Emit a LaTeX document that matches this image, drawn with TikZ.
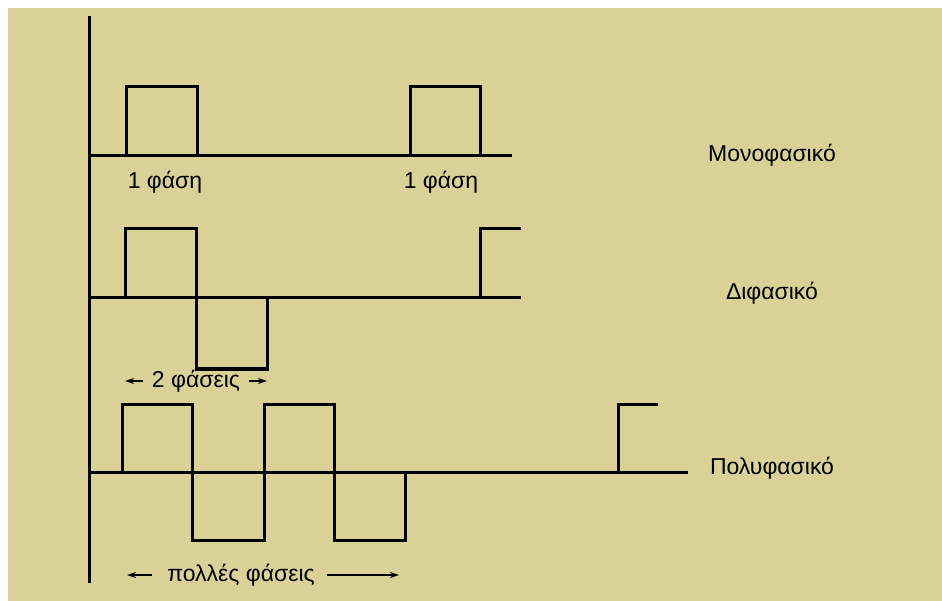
\documentclass[tikz,border=0pt]{standalone}
\usepackage{fontspec}
\setmainfont{Liberation Sans}
\usetikzlibrary{arrows.meta}
\definecolor{khaki}{RGB}{217,209,150}
\begin{document}
\begin{tikzpicture}[x=1pt,y=-1pt,
  wave/.style={line width=3pt,line join=miter,line cap=butt},
  lbl/.style={font=\fontsize{23}{26}\selectfont,inner sep=0pt},
  arr/.style={line width=1.3pt,-{Stealth[length=9pt,width=6pt]}}]
\useasboundingbox (0,0) rectangle (942,601);
\fill[white] (0,0) rectangle (942,601);
\fill[khaki] (8,8) rectangle (942,601);
% axis
\draw[wave] (89,16) -- (89,583);
% mono
\draw[wave] (89,156) -- (512,156);
\draw[wave] (126,156) -- (126,87) -- (197,87) -- (197,156);
\draw[wave] (410,156) -- (410,87) -- (480,87) -- (480,156);
\node[lbl] (m1) at (165,182) {1 φάση};
\node[lbl] (m2) at (441,182) {1 φάση};
\node[lbl] (mono) at (772,155) {Μονοφασικό};
% di
\draw[wave] (89,298) -- (521,298);
\draw[wave] (125,298) -- (125,229) -- (196,229) -- (196,369) -- (267,369) -- (267,298);
\draw[wave] (480,298) -- (480,229) -- (521,229);
\node[lbl] (di) at (772,293) {Διφασικό};
\node[lbl] (d2) at (196,381) {2 φάσεις};
\coordinate (d2l) at (125,381);
\coordinate (d2r) at (267,381);
\draw[arr] (143,381) -- (d2l);
\draw[arr] (249,381) -- (d2r);
% poly
\draw[wave] (89,472) -- (688,472);
\draw[wave] (122,472) -- (122,404) -- (192,404) -- (192,540) -- (264,540) -- (264,404) -- (334,404) -- (334,540) -- (405,540) -- (405,472);
\draw[wave] (618,472) -- (618,404) -- (658,404);
\node[lbl] (poly) at (772,468) {Πολυφασικό};
\node[lbl] (p2) at (241,575) {πολλές φάσεις};
\coordinate (p2l) at (127,575);
\coordinate (p2r) at (399,575);
\draw[arr] (152,575) -- (p2l);
\draw[arr] (327,575) -- (p2r);
\end{tikzpicture}
\end{document}
